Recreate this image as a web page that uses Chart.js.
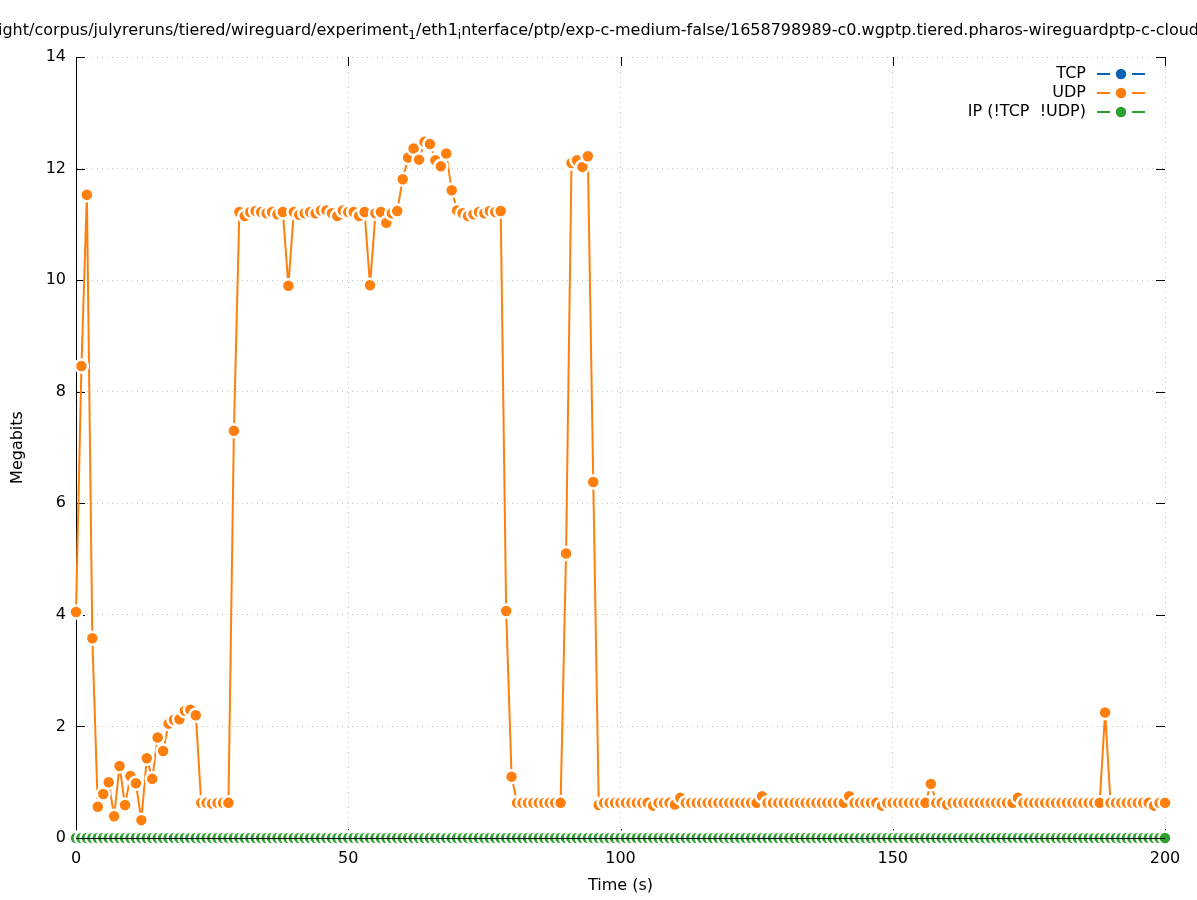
<!DOCTYPE html>
<html>
<head>
<meta charset="utf-8">
<script src="https://cdn.jsdelivr.net/npm/chart.js@4/dist/chart.umd.min.js"></script>
<style>
  html, body { margin: 0; padding: 0; background: #fff; }
  #wrap { width: 1197px; height: 900px; }
</style>
</head>
<body>
<div id="wrap"><canvas id="chart" width="1197" height="900"></canvas></div>
<script>
const seriesLabels = ['TCP', 'UDP', 'IP (!TCP  !UDP)'];
const seriesColors = ['#0b62b0', '#ff7f0e', '#2ca02c'];
const xTicks = [0, 50, 100, 150, 200];
const yTicks = [0, 2, 4, 6, 8, 10, 12, 14];

// title as printed by gnuplot (underscores turned into subscripts), clipped at both edges
const titleParts = [
    ['ight/corpus/julyreruns/tiered/wireguard/experiment', false],
    ['1', true],
    ['/eth1', false],
    ['i', true],
    ['nterface/ptp/exp-c-medium-false/1658798989-c0.wgptp.tiered.pharos-wireguardptp-c-cloud', false]
];

// one sample per second
const seconds = [];
for (let s = 0; s <= 200; s++) seconds.push(s);

const tcpMbits = [];

const udpMbits = [
    4.05, 8.46, 11.53, 3.58, 0.56, 0.79, 1.00, 0.39, 1.29, 0.59,
    1.11, 0.98, 0.32, 1.43, 1.06, 1.80, 1.56, 2.05, 2.12, 2.13,
    2.28, 2.30, 2.20, 0.63, 0.63, 0.62, 0.63, 0.63, 0.63, 7.30,
    11.22, 11.15, 11.22, 11.24, 11.22, 11.20, 11.22, 11.18, 11.22, 9.90,
    11.22, 11.17, 11.20, 11.22, 11.20, 11.25, 11.25, 11.20, 11.15, 11.25,
    11.22, 11.22, 11.15, 11.22, 9.91, 11.20, 11.22, 11.03, 11.20, 11.24,
    11.81, 12.20, 12.36, 12.16, 12.48, 12.44, 12.15, 12.04, 12.27, 11.61,
    11.25, 11.20, 11.15, 11.18, 11.22, 11.20, 11.24, 11.22, 11.24, 4.07,
    1.10, 0.63, 0.63, 0.63, 0.63, 0.63, 0.63, 0.63, 0.63, 0.63,
    5.10, 12.10, 12.15, 12.03, 12.22, 6.38, 0.59, 0.63, 0.63, 0.63,
    0.63, 0.63, 0.63, 0.63, 0.63, 0.63, 0.58, 0.63, 0.63, 0.63,
    0.60, 0.72, 0.63, 0.63, 0.63, 0.63, 0.63, 0.63, 0.63, 0.63,
    0.63, 0.63, 0.63, 0.63, 0.63, 0.63, 0.75, 0.63, 0.63, 0.63,
    0.63, 0.63, 0.63, 0.63, 0.63, 0.63, 0.63, 0.63, 0.63, 0.63,
    0.63, 0.63, 0.75, 0.63, 0.63, 0.63, 0.63, 0.63, 0.58, 0.63,
    0.63, 0.63, 0.63, 0.63, 0.63, 0.63, 0.63, 0.97, 0.63, 0.63,
    0.60, 0.63, 0.63, 0.63, 0.63, 0.63, 0.63, 0.63, 0.63, 0.63,
    0.63, 0.63, 0.63, 0.72, 0.63, 0.63, 0.63, 0.63, 0.63, 0.63,
    0.63, 0.63, 0.63, 0.63, 0.63, 0.63, 0.63, 0.63, 0.63, 2.25,
    0.63, 0.63, 0.63, 0.63, 0.63, 0.63, 0.63, 0.63, 0.58, 0.63,
    0.63
];

const ipMbits = [
    0, 0, 0, 0, 0, 0, 0, 0, 0, 0, 0, 0, 0, 0, 0, 0, 0, 0, 0, 0,
    0, 0, 0, 0, 0, 0, 0, 0, 0, 0, 0, 0, 0, 0, 0, 0, 0, 0, 0, 0,
    0, 0, 0, 0, 0, 0, 0, 0, 0, 0, 0, 0, 0, 0, 0, 0, 0, 0, 0, 0,
    0, 0, 0, 0, 0, 0, 0, 0, 0, 0, 0, 0, 0, 0, 0, 0, 0, 0, 0, 0,
    0, 0, 0, 0, 0, 0, 0, 0, 0, 0, 0, 0, 0, 0, 0, 0, 0, 0, 0, 0,
    0, 0, 0, 0, 0, 0, 0, 0, 0, 0, 0, 0, 0, 0, 0, 0, 0, 0, 0, 0,
    0, 0, 0, 0, 0, 0, 0, 0, 0, 0, 0, 0, 0, 0, 0, 0, 0, 0, 0, 0,
    0, 0, 0, 0, 0, 0, 0, 0, 0, 0, 0, 0, 0, 0, 0, 0, 0, 0, 0, 0,
    0, 0, 0, 0, 0, 0, 0, 0, 0, 0, 0, 0, 0, 0, 0, 0, 0, 0, 0, 0,
    0, 0, 0, 0, 0, 0, 0, 0, 0, 0, 0, 0, 0, 0, 0, 0, 0, 0, 0, 0,
    0
];

const FONT = 'DejaVu Sans';

function toPoints(values) {
    return values.map((v, i) => ({ x: seconds[i], y: v }));
}

function makeDataset(i, values, order) {
    return {
        label: seriesLabels[i],
        data: toPoints(values),
        borderColor: seriesColors[i],
        backgroundColor: seriesColors[i],
        borderWidth: 2,
        pointRadius: 6.5,
        pointBorderWidth: 2.5,
        pointBackgroundColor: seriesColors[i],
        pointBorderColor: '#ffffff',
        pointHoverRadius: 6.5,
        tension: 0,
        clip: false,
        order: order
    };
}

// gnuplot-ish extras: title, mirrored inward ticks, key at top right
const gnuplotLook = {
    id: 'gnuplotLook',
    beforeDatasetsDraw(chart) {
        const { ctx, chartArea: a, scales } = chart;
        ctx.save();
        ctx.strokeStyle = '#000';
        ctx.lineWidth = 1;
        ctx.beginPath();
        yTicks.forEach(v => {
            const y = Math.round(scales.y.getPixelForValue(v)) + 0.5;
            ctx.moveTo(a.left, y); ctx.lineTo(a.left + 9, y);
            ctx.moveTo(a.right, y); ctx.lineTo(a.right - 9, y);
        });
        xTicks.forEach(v => {
            const x = Math.round(scales.x.getPixelForValue(v)) + 0.5;
            ctx.moveTo(x, a.bottom); ctx.lineTo(x, a.bottom - 9);
            ctx.moveTo(x, a.top); ctx.lineTo(x, a.top + 9);
        });
        ctx.stroke();
        ctx.restore();
    },
    afterDatasetsDraw(chart) {
        const { ctx, chartArea: a } = chart;
        ctx.save();
        ctx.strokeStyle = '#000';
        ctx.lineWidth = 1;
        ctx.beginPath();
        ctx.moveTo(a.left, a.bottom + 0.5);
        ctx.lineTo(a.right, a.bottom + 0.5);
        ctx.stroke();
        ctx.restore();
    },
    afterDraw(chart) {
        const ctx = chart.ctx;
        ctx.save();

        // title
        ctx.fillStyle = '#000';
        ctx.textBaseline = 'alphabetic';
        ctx.textAlign = 'left';
        let total = 0;
        titleParts.forEach(([t, sub]) => {
            ctx.font = (sub ? 12 : 16) + 'px ' + FONT;
            total += ctx.measureText(t).width;
        });
        let x = chart.width / 2 - total / 2;
        titleParts.forEach(([t, sub]) => {
            ctx.font = (sub ? 12 : 16) + 'px ' + FONT;
            ctx.fillText(t, x, sub ? 39 : 35);
            x += ctx.measureText(t).width;
        });

        // key
        ctx.font = '16px ' + FONT;
        ctx.textAlign = 'right';
        ctx.textBaseline = 'middle';
        chart.data.datasets.forEach((ds, i) => {
            const y = 74 + i * 19;
            ctx.fillStyle = '#000';
            ctx.fillText(ds.label, 1086, y);
            ctx.strokeStyle = ds.borderColor;
            ctx.lineWidth = 2;
            ctx.beginPath();
            ctx.moveTo(1097, y); ctx.lineTo(1110, y);
            ctx.moveTo(1132, y); ctx.lineTo(1145, y);
            ctx.stroke();
            ctx.beginPath();
            ctx.arc(1121, y, 6.5, 0, Math.PI * 2);
            ctx.fillStyle = ds.borderColor;
            ctx.fill();
            ctx.strokeStyle = '#fff';
            ctx.lineWidth = 2.5;
            ctx.stroke();
        });
        ctx.restore();
    }
};

const chart = new Chart(document.getElementById('chart').getContext('2d'), {
    type: 'line',
    data: {
        datasets: [
            makeDataset(0, tcpMbits, 2),
            makeDataset(1, udpMbits, 1),
            makeDataset(2, ipMbits, 0)
        ]
    },
    options: {
        responsive: false,
        animation: false,
        devicePixelRatio: 1,
        layout: { padding: { top: 57, right: 32, left: 0, bottom: 0 } },
        plugins: {
            legend: { display: false },
            tooltip: { enabled: false },
            title: { display: false }
        },
        scales: {
            x: {
                type: 'linear',
                min: 0,
                max: 200,
                afterFit: s => { s.height = 62; },
                afterBuildTicks: s => { s.ticks = xTicks.map(v => ({ value: v })); },
                grid: { color: '#c4c4c4', lineWidth: 1, drawTicks: false },
                border: { display: true, color: '#000', width: 1, dash: [1, 4] },
                ticks: { padding: 11, color: '#000', font: { family: FONT, size: 16 } },
                title: {
                    display: true,
                    text: 'Time (s)',
                    color: '#000',
                    font: { family: FONT, size: 16 },
                    padding: { top: 0, bottom: 5 }
                }
            },
            y: {
                min: 0,
                max: 14,
                afterFit: s => { s.width = 76; },
                afterBuildTicks: s => { s.ticks = yTicks.map(v => ({ value: v })); },
                grid: { color: '#c4c4c4', lineWidth: 1, drawTicks: false },
                border: { display: true, color: '#000', width: 1, dash: [1, 4] },
                ticks: { padding: 10, color: '#000', font: { family: FONT, size: 16 } },
                title: {
                    display: true,
                    text: 'Megabits',
                    color: '#000',
                    font: { family: FONT, size: 16 },
                    padding: { top: 8, bottom: 0 }
                }
            }
        }
    },
    plugins: [gnuplotLook]
});
</script>
</body>
</html>
